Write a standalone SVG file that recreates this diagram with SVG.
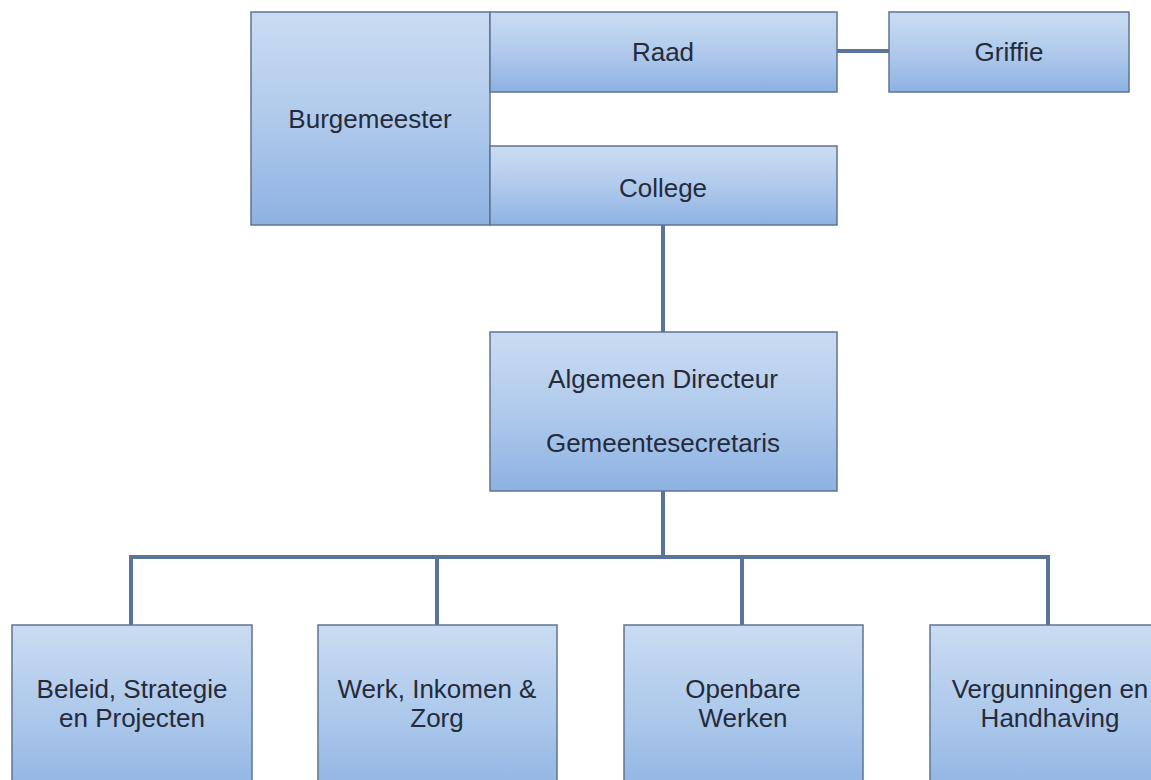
<svg xmlns="http://www.w3.org/2000/svg" width="1151" height="780" viewBox="0 0 1151 780">
<defs>
<linearGradient id="g" x1="0" y1="0" x2="0" y2="1">
<stop offset="0" stop-color="#cadcf2"/>
<stop offset="0.5" stop-color="#b0caec"/>
<stop offset="1" stop-color="#8db2e1"/>
</linearGradient>
<linearGradient id="gb" x1="0" y1="0" x2="0" y2="1">
<stop offset="0" stop-color="#cadcf2"/>
<stop offset="0.6" stop-color="#a8c5ea"/>
<stop offset="1" stop-color="#8db2e1"/>
</linearGradient>
</defs>
<style>
.box{fill:url(#g);stroke:#5f7493;stroke-width:1.5}
.boxb{fill:url(#gb);stroke:#5f7493;stroke-width:1.5}
.t{font-family:"Liberation Sans",Arial,sans-serif;font-size:26px;fill:#252b3b;text-anchor:middle}
.c{stroke:#5a7399;stroke-width:4;fill:none}
</style>
<rect width="1151" height="780" fill="#ffffff"/>
<g id="connectors">
<line class="c" x1="837" y1="51" x2="889" y2="51"/>
<line class="c" x1="663" y1="225" x2="663" y2="332"/>
<line class="c" x1="663" y1="491" x2="663" y2="557"/>
<polyline class="c" points="131,625 131,557 1048,557 1048,625"/>
<line class="c" x1="437" y1="557" x2="437" y2="625"/>
<line class="c" x1="742" y1="557" x2="742" y2="625"/>
</g>
<g id="burgemeester">
<rect class="box" x="251" y="12" width="239" height="213"/>
<text class="t" x="370" y="128">Burgemeester</text>
</g>
<g id="raad">
<rect class="box" x="490" y="12" width="347" height="80"/>
<text class="t" x="663" y="61">Raad</text>
</g>
<g id="college">
<rect class="box" x="490" y="146" width="347" height="79"/>
<text class="t" x="663" y="197">College</text>
</g>
<g id="griffie">
<rect class="box" x="889" y="12" width="240" height="80"/>
<text class="t" x="1009" y="61">Griffie</text>
</g>
<g id="algemeen">
<rect class="box" x="490" y="332" width="347" height="159"/>
<text class="t" x="663" y="388">Algemeen Directeur</text>
<text class="t" x="663" y="452">Gemeentesecretaris</text>
</g>
<g id="beleid">
<rect class="boxb" x="12" y="625" width="240" height="175"/>
<text class="t" x="132" y="698">Beleid, Strategie</text>
<text class="t" x="132" y="727">en Projecten</text>
</g>
<g id="werk">
<rect class="boxb" x="318" y="625" width="239" height="175"/>
<text class="t" x="437" y="698">Werk, Inkomen &amp;</text>
<text class="t" x="437" y="727">Zorg</text>
</g>
<g id="openbare">
<rect class="boxb" x="624" y="625" width="239" height="175"/>
<text class="t" x="743" y="698">Openbare</text>
<text class="t" x="743" y="727">Werken</text>
</g>
<g id="vergunningen">
<rect class="boxb" x="930" y="625" width="240" height="175"/>
<text class="t" x="1050" y="698">Vergunningen en</text>
<text class="t" x="1050" y="727">Handhaving</text>
</g>
</svg>
